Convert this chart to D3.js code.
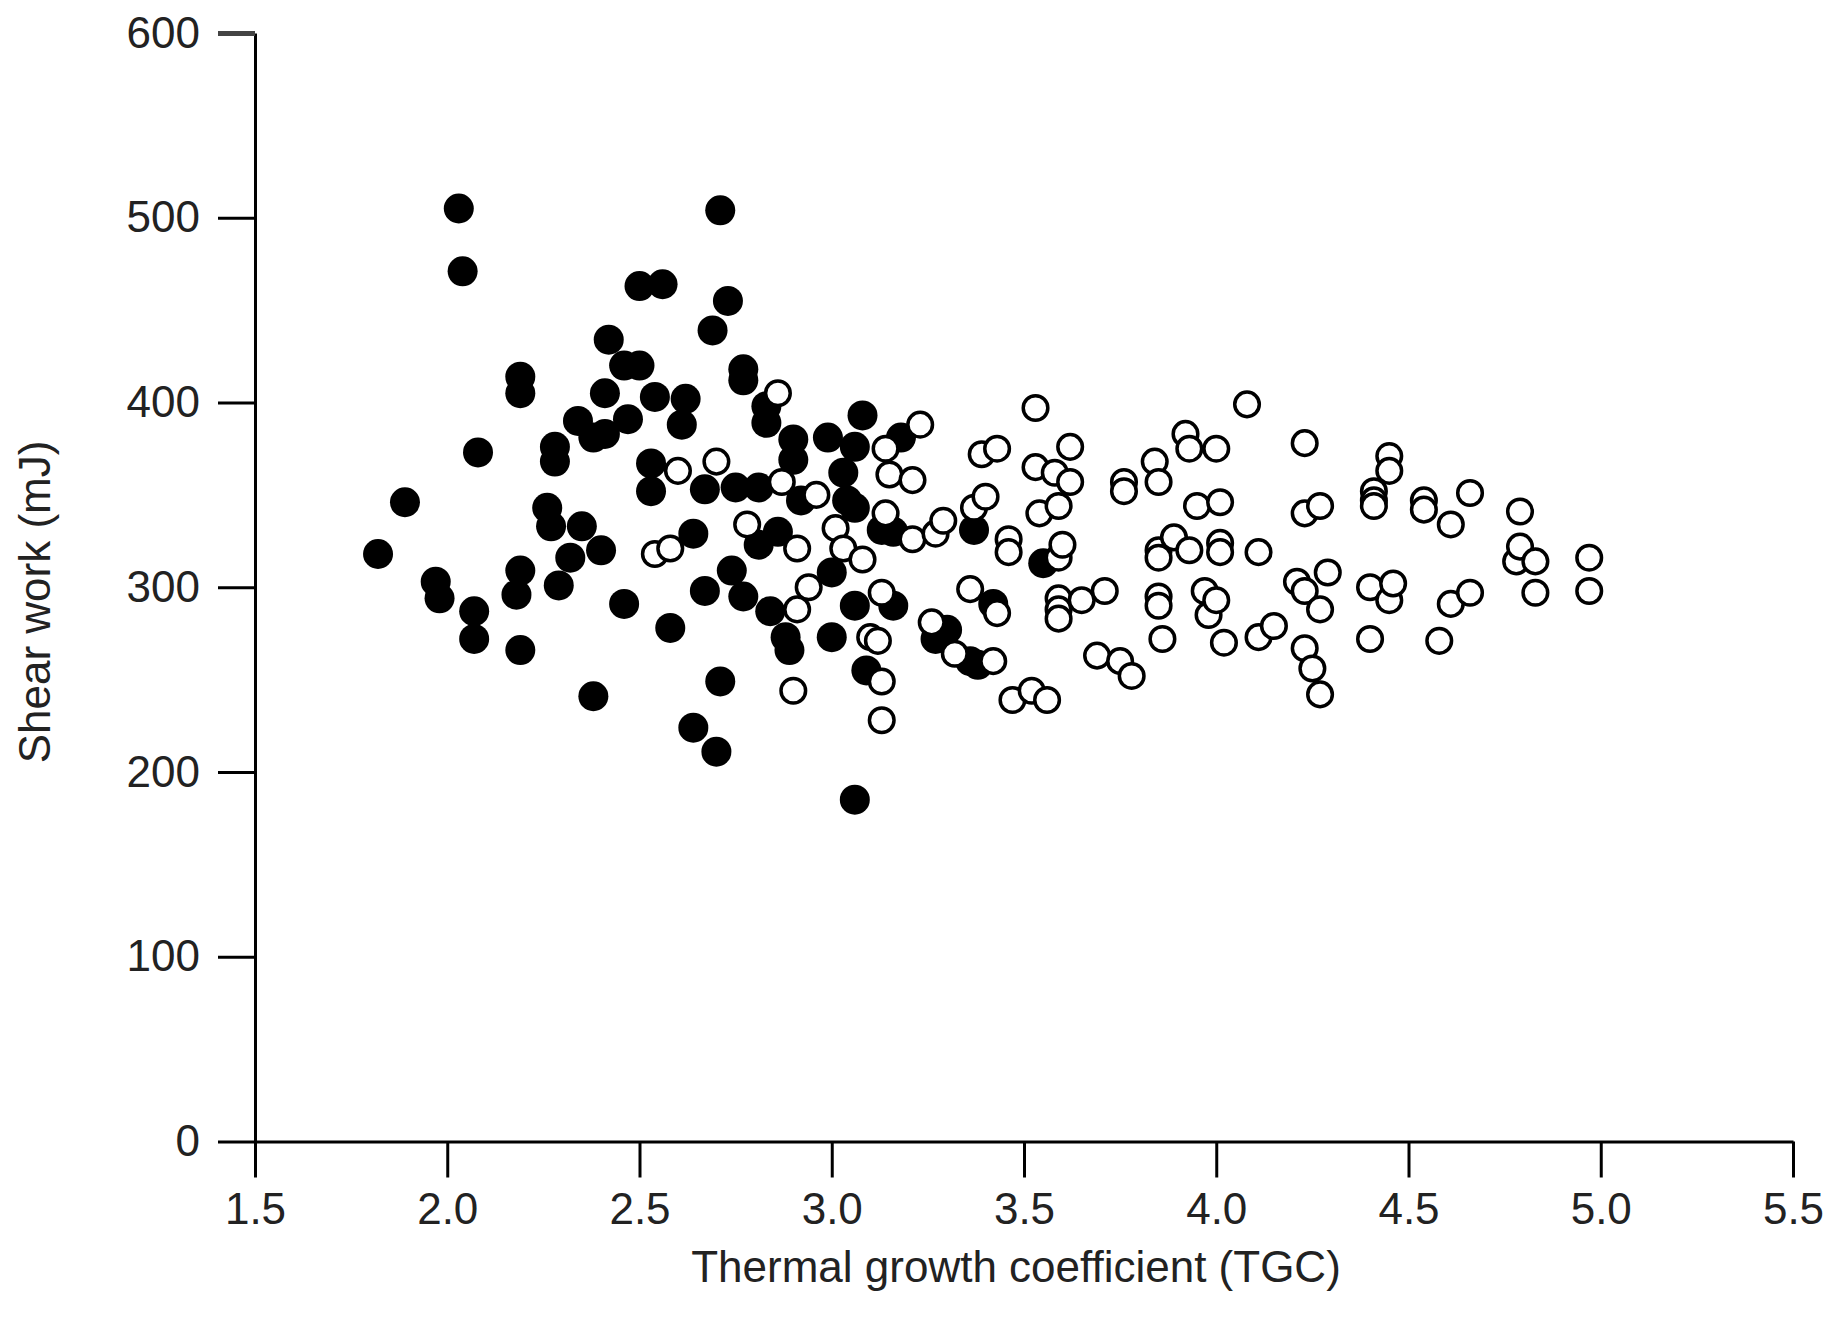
<!DOCTYPE html>
<html>
<head>
<meta charset="utf-8">
<script src="https://cdn.jsdelivr.net/npm/d3@7"></script>
<style>
  body { margin: 0; background: #fff; overflow: hidden; }
  svg { display: block; }
  svg text { font-family: "Liberation Sans", Arial, sans-serif; fill: #222; }
</style>
</head>
<body>
<svg id="chart" width="1835" height="1323"></svg>
<script>
// TGC vs shear work, two groups (filled / open markers)
var xTicks = [1.5, 2.0, 2.5, 3.0, 3.5, 4.0, 4.5, 5.0, 5.5];
var yTicks = [0, 100, 200, 300, 400, 500, 600];

var filledPts = [
  [1.82, 318], [1.89, 346], [1.97, 303], [1.98, 294], [2.03, 505], [2.04, 471],
  [2.07, 287], [2.07, 272], [2.08, 373], [2.18, 296], [2.19, 309], [2.19, 266],
  [2.19, 414], [2.19, 405], [2.26, 343], [2.27, 333], [2.28, 376], [2.28, 368],
  [2.29, 301], [2.32, 316], [2.34, 390], [2.35, 333], [2.38, 381], [2.38, 241],
  [2.40, 320], [2.41, 383], [2.41, 405], [2.42, 434], [2.46, 420], [2.46, 291],
  [2.47, 391], [2.50, 420], [2.50, 463], [2.53, 367], [2.53, 352], [2.54, 403],
  [2.56, 464], [2.58, 278], [2.61, 388], [2.62, 402], [2.64, 329], [2.64, 224],
  [2.67, 353], [2.67, 298], [2.69, 439], [2.70, 211], [2.71, 504], [2.71, 249],
  [2.73, 455], [2.74, 309], [2.75, 354], [2.77, 418], [2.77, 412], [2.77, 295],
  [2.81, 354], [2.81, 323], [2.83, 398], [2.83, 389], [2.84, 287], [2.86, 330],
  [2.88, 273], [2.89, 266], [2.90, 380], [2.90, 369], [2.92, 347], [2.99, 381],
  [3.00, 273], [3.00, 308], [3.03, 362], [3.04, 347], [3.06, 376], [3.06, 343],
  [3.06, 290], [3.06, 185], [3.08, 393], [3.09, 255], [3.13, 331], [3.16, 330],
  [3.16, 290], [3.18, 381], [3.27, 272], [3.30, 277], [3.36, 260], [3.37, 331],
  [3.38, 258], [3.42, 291], [3.55, 313]
];

var openPts = [
  [2.54, 318], [2.58, 321], [2.60, 363], [2.70, 368], [2.78, 334], [2.86, 405],
  [2.87, 357], [2.90, 244], [2.91, 321], [2.91, 288], [2.94, 300], [2.96, 350],
  [3.01, 332], [3.03, 321], [3.08, 315], [3.10, 273], [3.12, 271], [3.13, 297],
  [3.13, 249], [3.13, 228], [3.14, 375], [3.14, 340], [3.15, 361], [3.21, 358],
  [3.21, 326], [3.23, 388], [3.26, 281], [3.27, 329], [3.29, 336], [3.32, 264],
  [3.36, 299], [3.37, 343], [3.39, 372], [3.40, 349], [3.42, 260], [3.43, 375],
  [3.43, 286], [3.46, 326], [3.46, 319], [3.47, 239], [3.52, 244], [3.53, 397],
  [3.53, 365], [3.54, 340], [3.56, 239], [3.58, 362], [3.59, 344], [3.59, 294],
  [3.59, 288], [3.59, 283], [3.59, 316], [3.60, 323], [3.62, 376], [3.62, 357],
  [3.65, 293], [3.69, 263], [3.71, 298], [3.75, 260], [3.76, 357], [3.76, 352],
  [3.78, 252], [3.84, 368], [3.85, 357], [3.85, 320], [3.85, 316], [3.85, 295],
  [3.85, 290], [3.86, 272], [3.89, 327], [3.92, 383], [3.93, 375], [3.93, 320],
  [3.95, 344], [3.97, 298], [3.98, 285], [4.00, 375], [4.00, 293], [4.01, 346],
  [4.01, 324], [4.01, 319], [4.02, 270], [4.08, 399], [4.11, 319], [4.11, 273],
  [4.15, 279], [4.21, 303], [4.23, 378], [4.23, 340], [4.23, 298], [4.23, 267],
  [4.25, 256], [4.27, 344], [4.27, 288], [4.27, 242], [4.29, 308], [4.40, 300],
  [4.40, 272], [4.41, 352], [4.41, 347], [4.41, 344], [4.45, 371], [4.45, 363],
  [4.45, 293], [4.46, 302], [4.54, 347], [4.54, 342], [4.58, 271], [4.61, 334],
  [4.61, 291], [4.66, 351], [4.66, 297], [4.78, 314], [4.79, 341], [4.79, 322],
  [4.83, 314], [4.83, 297], [4.97, 316], [4.97, 298]
];

var svg = d3.select("#chart");

var x = d3.scaleLinear().domain([1.5, 5.5]).range([255, 1793]);
var y = d3.scaleLinear().domain([0, 600]).range([1141.5, 33]);

// axes
var gx = svg.append("g")
    .attr("transform", "translate(0," + y(0) + ")")
    .call(d3.axisBottom(x).tickValues(xTicks).tickFormat(d3.format(".1f"))
        .tickSizeInner(36).tickSizeOuter(0).tickPadding(15));

var gy = svg.append("g")
    .attr("transform", "translate(" + x(1.5) + ",0)")
    .call(d3.axisLeft(y).tickValues(yTicks).tickFormat(d3.format("d"))
        .tickSizeInner(37).tickSizeOuter(0).tickPadding(18));

svg.selectAll(".domain, .tick line")
    .attr("stroke", "#000")
    .attr("stroke-width", 3);
svg.selectAll(".tick text")
    .attr("font-size", 44)
    .attr("fill", "#222")
    .style("font-family", "'Liberation Sans', Arial, sans-serif");

// top tick looks heavier in the original
gy.selectAll(".tick").filter(function (d) { return d === 600; })
    .select("line").attr("stroke-width", 5).attr("stroke", "#444");

// points
svg.append("g").selectAll("circle")
    .data(filledPts)
    .enter().append("circle")
    .attr("cx", function (d) { return x(d[0]); })
    .attr("cy", function (d) { return y(d[1]); })
    .attr("r", 15)
    .attr("fill", "#000");

svg.append("g").selectAll("circle")
    .data(openPts)
    .enter().append("circle")
    .attr("cx", function (d) { return x(d[0]); })
    .attr("cy", function (d) { return y(d[1]); })
    .attr("r", 12.3)
    .attr("fill", "#fff")
    .attr("stroke", "#000")
    .attr("stroke-width", 3.5);

// axis titles
svg.append("text")
    .attr("x", 1016)
    .attr("y", 1282)
    .attr("text-anchor", "middle")
    .attr("font-size", 44)
    .text("Thermal growth coefficient (TGC)");

svg.append("text")
    .attr("transform", "translate(50,602) rotate(-90)")
    .attr("text-anchor", "middle")
    .attr("font-size", 44)
    .text("Shear work (mJ)");
</script>
</body>
</html>
